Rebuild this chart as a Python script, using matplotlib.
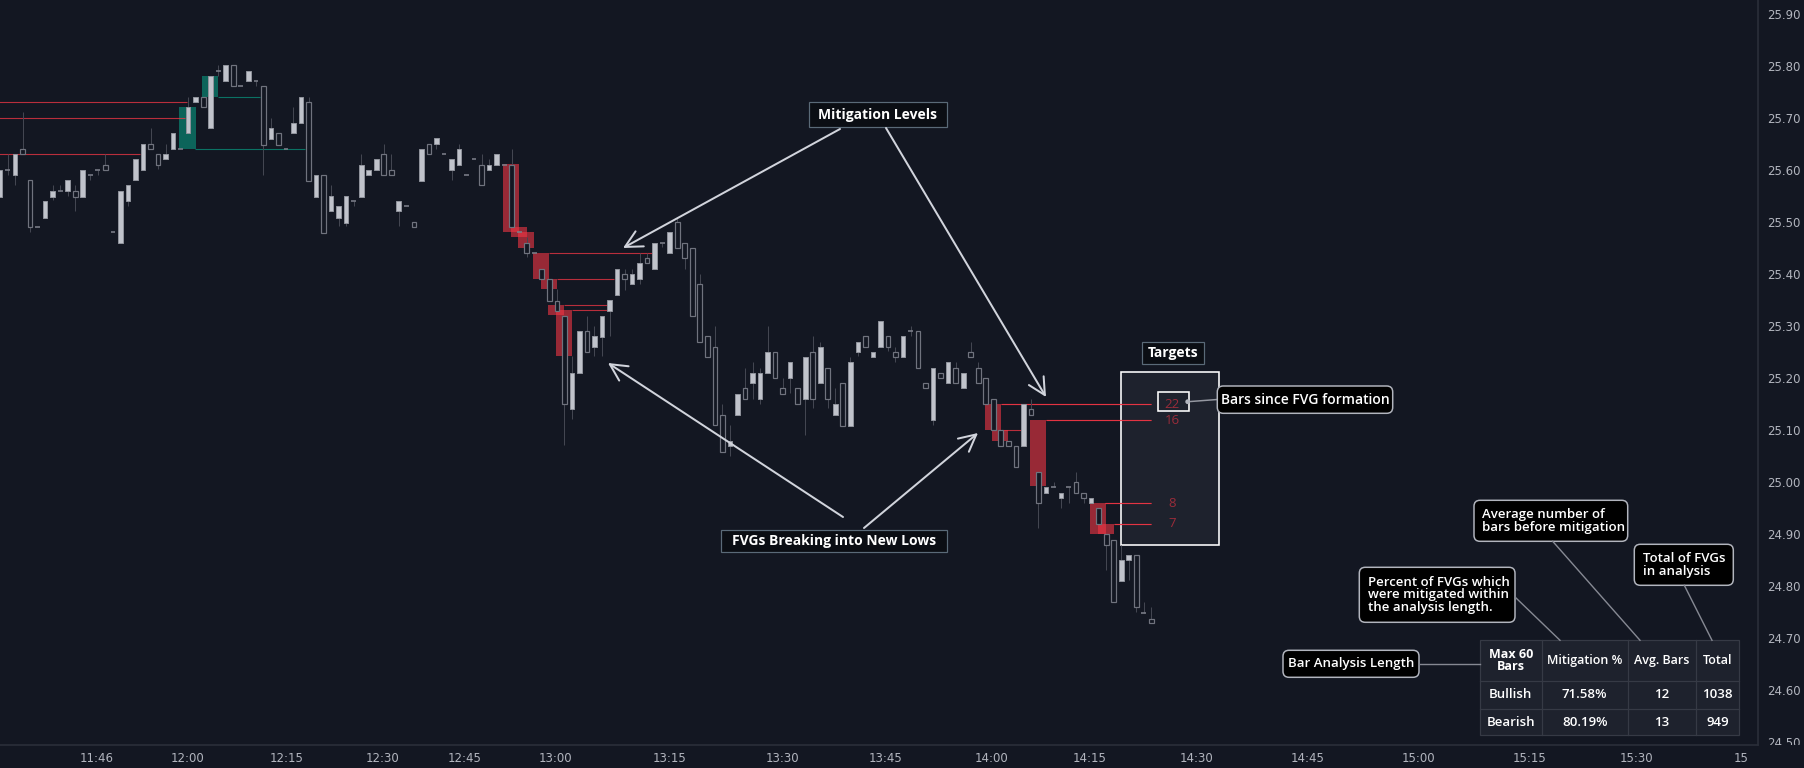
import matplotlib
matplotlib.use('Agg')
import matplotlib.pyplot as plt
from matplotlib.patches import Rectangle, FancyBboxPatch, FancyArrowPatch, Circle
from matplotlib.lines import Line2D
from matplotlib.transforms import IdentityTransform, Bbox, TransformedBbox

W, H = 1804, 768
BG = '#131722'
PX_PER_BAR = 7.525

# candles: one per bar, 1-minute chart
opens = [25.548, 25.599, 25.589, 25.639, 25.580, 25.489, 25.508, 25.548, 25.559, 25.559,
         25.559, 25.548, 25.589, 25.599, 25.610, 25.480, 25.459, 25.539, 25.580, 25.599,
         25.649, 25.630, 25.620, 25.639, 25.639, 25.670, 25.730, 25.739, 25.680, 25.789,
         25.770, 25.801, 25.761, 25.770, 25.770, 25.761, 25.660, 25.670, 25.639, 25.670,
         25.689, 25.730, 25.548, 25.589, 25.520, 25.508, 25.498, 25.539, 25.548, 25.589,
         25.599, 25.630, 25.599, 25.520, 25.530, 25.499, 25.579, 25.649, 25.649, 25.630,
         25.599, 25.610, 25.589, 25.620, 25.610, 25.599, 25.610, 25.610, 25.610, 25.480,
         25.459, 25.439, 25.409, 25.389, 25.348, 25.319, 25.139, 25.209, 25.289, 25.259,
         25.279, 25.329, 25.359, 25.399, 25.380, 25.389, 25.430, 25.409, 25.459, 25.439,
         25.499, 25.459, 25.449, 25.380, 25.280, 25.259, 25.128, 25.068, 25.128, 25.180,
         25.189, 25.159, 25.209, 25.249, 25.180, 25.199, 25.180, 25.159, 25.249, 25.189,
         25.218, 25.128, 25.189, 25.108, 25.249, 25.280, 25.239, 25.259, 25.280, 25.249,
         25.239, 25.289, 25.289, 25.189, 25.118, 25.209, 25.189, 25.218, 25.180, 25.249,
         25.218, 25.199, 25.159, 25.099, 25.078, 25.068, 25.068, 25.139, 25.018, 24.978,
         24.989, 24.968, 24.989, 24.999, 24.978, 24.959, 24.949, 24.899, 24.888, 24.809,
         24.849, 24.859, 24.747, 24.737]
highs = [25.600, 25.630, 25.630, 25.711, 25.580, 25.489, 25.539, 25.571, 25.571, 25.580,
         25.571, 25.599, 25.589, 25.599, 25.630, 25.480, 25.559, 25.570, 25.620, 25.649,
         25.680, 25.630, 25.649, 25.670, 25.639, 25.739, 25.739, 25.739, 25.780, 25.802,
         25.801, 25.801, 25.761, 25.789, 25.770, 25.761, 25.699, 25.670, 25.639, 25.721,
         25.739, 25.739, 25.589, 25.589, 25.571, 25.530, 25.549, 25.539, 25.630, 25.599,
         25.620, 25.650, 25.630, 25.539, 25.530, 25.499, 25.639, 25.649, 25.661, 25.630,
         25.620, 25.649, 25.589, 25.620, 25.630, 25.620, 25.630, 25.610, 25.640, 25.480,
         25.470, 25.439, 25.409, 25.389, 25.370, 25.319, 25.241, 25.289, 25.319, 25.300,
         25.318, 25.349, 25.409, 25.409, 25.409, 25.439, 25.439, 25.459, 25.459, 25.480,
         25.508, 25.459, 25.449, 25.399, 25.280, 25.300, 25.150, 25.109, 25.168, 25.218,
         25.230, 25.218, 25.299, 25.249, 25.199, 25.230, 25.180, 25.239, 25.280, 25.269,
         25.218, 25.180, 25.189, 25.239, 25.268, 25.280, 25.249, 25.309, 25.280, 25.259,
         25.280, 25.299, 25.289, 25.189, 25.218, 25.209, 25.230, 25.230, 25.209, 25.268,
         25.230, 25.199, 25.159, 25.099, 25.078, 25.068, 25.149, 25.159, 25.018, 24.989,
         24.999, 24.978, 24.989, 25.018, 24.978, 24.968, 24.949, 24.899, 24.888, 24.878,
         24.859, 24.859, 24.768, 24.759]
lows = [25.548, 25.590, 25.571, 25.630, 25.481, 25.489, 25.508, 25.541, 25.559, 25.550,
        25.521, 25.548, 25.580, 25.590, 25.599, 25.480, 25.459, 25.531, 25.580, 25.599,
        25.639, 25.601, 25.620, 25.639, 25.639, 25.670, 25.730, 25.720, 25.680, 25.780,
        25.770, 25.761, 25.761, 25.770, 25.761, 25.590, 25.660, 25.648, 25.639, 25.670,
        25.689, 25.579, 25.548, 25.479, 25.520, 25.491, 25.491, 25.531, 25.548, 25.589,
        25.599, 25.589, 25.589, 25.491, 25.530, 25.489, 25.579, 25.630, 25.640, 25.630,
        25.580, 25.610, 25.589, 25.620, 25.570, 25.599, 25.610, 25.610, 25.489, 25.480,
        25.432, 25.439, 25.389, 25.348, 25.329, 25.070, 25.120, 25.209, 25.249, 25.241,
        25.241, 25.280, 25.359, 25.369, 25.380, 25.380, 25.420, 25.409, 25.452, 25.439,
        25.449, 25.410, 25.318, 25.268, 25.239, 25.109, 25.058, 25.050, 25.128, 25.159,
        25.160, 25.149, 25.209, 25.199, 25.168, 25.170, 25.149, 25.090, 25.141, 25.189,
        25.141, 25.128, 25.108, 25.108, 25.241, 25.259, 25.239, 25.259, 25.251, 25.231,
        25.239, 25.280, 25.218, 25.180, 25.109, 25.199, 25.189, 25.189, 25.180, 25.239,
        25.189, 25.149, 25.099, 25.068, 25.068, 25.028, 25.068, 25.128, 24.911, 24.978,
        24.989, 24.950, 24.960, 24.978, 24.960, 24.959, 24.918, 24.830, 24.768, 24.809,
        24.811, 24.749, 24.747, 24.728]
closes = [25.600, 25.599, 25.630, 25.630, 25.489, 25.489, 25.539, 25.559, 25.559, 25.580,
          25.548, 25.599, 25.589, 25.599, 25.599, 25.480, 25.559, 25.570, 25.620, 25.649,
          25.639, 25.610, 25.630, 25.670, 25.639, 25.720, 25.739, 25.720, 25.780, 25.789,
          25.801, 25.761, 25.761, 25.789, 25.770, 25.648, 25.680, 25.648, 25.639, 25.689,
          25.739, 25.579, 25.589, 25.479, 25.549, 25.530, 25.549, 25.539, 25.610, 25.599,
          25.620, 25.589, 25.589, 25.539, 25.530, 25.489, 25.639, 25.630, 25.661, 25.630,
          25.620, 25.639, 25.589, 25.620, 25.570, 25.610, 25.630, 25.610, 25.489, 25.480,
          25.439, 25.439, 25.389, 25.348, 25.329, 25.149, 25.209, 25.289, 25.249, 25.280,
          25.318, 25.349, 25.409, 25.389, 25.399, 25.420, 25.420, 25.459, 25.459, 25.480,
          25.449, 25.430, 25.318, 25.268, 25.239, 25.109, 25.058, 25.078, 25.168, 25.159,
          25.209, 25.209, 25.249, 25.199, 25.168, 25.230, 25.149, 25.239, 25.159, 25.259,
          25.159, 25.149, 25.108, 25.230, 25.268, 25.259, 25.249, 25.309, 25.259, 25.239,
          25.280, 25.289, 25.218, 25.180, 25.218, 25.199, 25.230, 25.189, 25.209, 25.239,
          25.189, 25.149, 25.099, 25.068, 25.068, 25.028, 25.149, 25.128, 24.959, 24.989,
          24.989, 24.978, 24.989, 24.978, 24.968, 24.968, 24.918, 24.878, 24.768, 24.849,
          24.859, 24.759, 24.747, 24.728]

# fair value gaps: first bar, top, bottom
bear_fvg_bar = [67, 68, 69, 71, 72, 73, 74, 131, 132, 137, 145, 146]
bear_fvg_top = [25.611, 25.489, 25.480, 25.439, 25.390, 25.340, 25.330, 25.149, 25.100, 25.118, 24.959, 24.919]
bear_fvg_bot = [25.481, 25.471, 25.450, 25.390, 25.370, 25.320, 25.241, 25.100, 25.079, 24.991, 24.900, 24.900]
bull_fvg_bar = [24, 27]
bull_fvg_top = [25.720, 25.780]
bull_fvg_bot = [25.639, 25.739]

# mitigation levels: price, from bar, to bar
bear_lvl = [25.730, 25.699, 25.630, 25.439, 25.390, 25.340, 25.330, 25.100, 25.149, 25.118, 24.959, 24.919]
bear_lvl_from = [-1, -1, -1, 73.0, 74.0, 74.9, 76.0, 133.0, 133.0, 139.0, 146.9, 148.0]
bear_lvl_to = [24.85, 24.6, 18.6, 86.7, 81.6, 80.6, 80.6, 135.8, 153.0, 153.0, 153.0, 153.0]
bull_lvl = [25.639, 25.739]
bull_lvl_from = [25.9, 29.0]
bull_lvl_to = [40.5, 34.5]

target_lvl = [25.149, 25.118, 24.959, 24.919]
target_bars = ['22', '16', '8', '7']

time_pos = [12.8, 24.9, 38.1, 50.9, 61.8, 73.8, 89.0, 104.0, 117.7, 131.8, 144.8, 159.0,
            173.8, 188.5, 203.2, 217.5, 231.4]
time_lbl = ['11:46', '12:00', '12:15', '12:30', '12:45', '13:00', '13:15', '13:30', '13:45',
            '14:00', '14:15', '14:30', '14:45', '15:00', '15:15', '15:30', '15']
price_ticks = [24.5, 24.6, 24.7, 24.8, 24.9, 25.0, 25.1, 25.2, 25.3, 25.4, 25.5, 25.6, 25.7, 25.8, 25.9]

tbl_cols = ['Max 60\nBars', 'Mitigation %', 'Avg. Bars', 'Total']
tbl_rows = [['Bullish', '71.58%', '12', '1038'],
            ['Bearish', '80.19%', '13', '949']]

RED = '#f23645'
TEAL = '#089981'
FONT = ['Open Sans', 'DejaVu Sans']

fig = plt.figure(figsize=(W / 100, H / 100), dpi=100, facecolor=BG)
ax = fig.add_axes([0, 23 / H, 1758 / W, 745 / H], facecolor=BG)
ax.set_xlim(0, 1758 / PX_PER_BAR)
ax.set_ylim(24.4938, 25.9265)

px = 0.72  # one pixel in points
bw = 0.62

# fvg boxes
for b, t, bt in zip(bear_fvg_bar, bear_fvg_top, bear_fvg_bot):
    ax.add_patch(Rectangle((b - 0.15, bt), 2.15, t - bt, fc=RED, alpha=0.6, lw=0, zorder=1))
for b, t, bt in zip(bull_fvg_bar, bull_fvg_top, bull_fvg_bot):
    ax.add_patch(Rectangle((b - 0.15, bt), 2.15, t - bt, fc=TEAL, alpha=0.6, lw=0, zorder=1))
ax.hlines(bear_lvl, bear_lvl_from, bear_lvl_to, color=RED, alpha=0.75, lw=1.1 * px, zorder=1.6)
ax.hlines(bull_lvl, bull_lvl_from, bull_lvl_to, color=TEAL, alpha=0.7, lw=1.1 * px, zorder=1.6)

# candles
for i, (o, h, l, c) in enumerate(zip(opens, highs, lows, closes)):
    if h > max(o, c) or l < min(o, c):
        ax.vlines(i, l, h, color='#434651', lw=1 * px, zorder=2)
    if o == c:
        ax.hlines(o, i - bw / 2, i + bw / 2, color='#7b7e89', lw=1.6 * px, zorder=3)
    elif c > o:
        ax.bar(i, c - o, bottom=o, width=bw, color='#c0c3cb', edgecolor='#8f929b', lw=1 * px, zorder=3)
    else:
        ax.bar(i, o - c, bottom=c, width=bw, color=BG, edgecolor='#70737e', lw=1.2 * px, zorder=3)

# axes styling
for s in ['top', 'left']:
    ax.spines[s].set_visible(False)
for s in ['right', 'bottom']:
    ax.spines[s].set_color('#2a2e39')
    ax.spines[s].set_linewidth(1.2)
ax.yaxis.tick_right()
ax.set_yticks(price_ticks)
ax.set_yticklabels([f'{p:.2f}' for p in price_ticks])
ax.set_xticks(time_pos)
ax.set_xticklabels(time_lbl)
ax.tick_params(axis='y', length=0, pad=6.5, labelsize=8.5, labelcolor='#b2b5be')
ax.tick_params(axis='x', length=0, pad=5, labelsize=8.5, labelcolor='#b2b5be')
# price labels are hidden under the time scale, like the 24.50 one
price_clip = TransformedBbox(Bbox([[0, 23], [W, H]]), IdentityTransform())
for lbl in ax.get_yticklabels():
    lbl.set_clip_box(price_clip)
    lbl.set_clip_on(True)

# annotation layer in pixel coordinates (origin top-left)
ident = IdentityTransform()


def fy(y):
    return H - y


def rect(x0, y0, x1, y1, fc, ec, lw, z=5, rounded=0):
    if rounded:
        p = FancyBboxPatch((x0, fy(y1)), x1 - x0, y1 - y0,
                           boxstyle=f'round,pad=0,rounding_size={rounded}',
                           fc=fc, ec=ec, lw=lw * px, transform=ident, zorder=z, clip_on=False)
    else:
        p = Rectangle((x0, fy(y1)), x1 - x0, y1 - y0, fc=fc, ec=ec, lw=lw * px,
                      transform=ident, zorder=z, clip_on=False)
    ax.add_patch(p)


def txt(x, y, s, size=9.5, weight='semibold', ha='center', color='white', z=6, ls=1.1):
    ax.text(x, fy(y), s, transform=ident, ha=ha, va='center', fontsize=size,
            fontweight=weight, color=color, family=FONT, zorder=z, linespacing=ls, clip_on=False)


def seg(x0, y0, x1, y1, color='#868993', lw=1.4, z=5):
    ax.add_line(Line2D([x0, x1], [fy(y0), fy(y1)], color=color, lw=lw * px, transform=ident,
                       zorder=z, clip_on=False))


def arrow(x0, y0, x1, y1):
    ax.add_patch(FancyArrowPatch((x0, fy(y0)), (x1, fy(y1)), transform=ident,
                                 arrowstyle='->,head_length=0.55,head_width=0.28',
                                 mutation_scale=22, color='#d1d4dc', lw=2 * px,
                                 shrinkA=0, shrinkB=0, zorder=6, clip_on=False))


# targets panel
rect(1120.7, 372.3, 1218.7, 545.3, '#1e222d', 'white', 1.6, z=0.5)
ax.hlines(bear_lvl[8:], bear_lvl_from[8:], bear_lvl_to[8:], color=RED, alpha=0.75, lw=1.1 * px, zorder=1.6)
for lv, n in zip(target_lvl, target_bars):
    ax.text(155.8, lv, n, ha='center', va='center', fontsize=9.5, color='#9a2c3a', family=FONT, zorder=4)
rect(1142.3, 342.3, 1203.7, 364.3, '#0b0e14', '#5a6a78', 1.2)
txt(1173, 353.3, 'Targets', size=10, weight='bold')
rect(1158.3, 392.3, 1188.7, 410.7, 'none', 'white', 1.6)
seg(1188, 401.7, 1217.3, 399.5, color='#9598a1', lw=1.5)
ax.add_patch(Circle((1187.7, fy(401.7)), 2.4, fc='#b2b5be', ec='none', transform=ident, zorder=6))
rect(1217.3, 386, 1392.7, 413.3, 'black', '#b2b5be', 1.5, rounded=6)
txt(1305, 399.7, 'Bars since FVG formation', size=10)

# labelled arrows
rect(808.8, 102.4, 946.9, 126.6, '#0b0e14', '#5a6a78', 1.2)
txt(877.8, 114.5, 'Mitigation Levels', size=10, weight='bold')
arrow(840, 129, 623, 248)
arrow(886, 128, 1046, 397)
rect(720.7, 530, 947.3, 552.3, '#0b0e14', '#5a6a78', 1.2)
txt(834, 541.2, 'FVGs Breaking into New Lows', size=10, weight='bold')
arrow(843, 517, 608, 363)
arrow(864, 528, 978, 433)

# statistics table
xs = [1479.7, 1541.7, 1627.7, 1696.3, 1739.3]
ys = [640.3, 681, 708.7, 735.3]
rect(xs[0], ys[0], xs[-1], ys[-1], '#1e222d', '#363a45', 1.2)
for x in xs[1:-1]:
    seg(x, ys[0], x, ys[-1], color='#363a45', lw=1.2, z=5.5)
for y in ys[1:-1]:
    seg(xs[0], y, xs[-1], y, color='#363a45', lw=1.2, z=5.5)
for j, name in enumerate(tbl_cols):
    cx = (xs[j] + xs[j + 1]) / 2
    txt(cx, (ys[0] + ys[1]) / 2, name, size=9, weight='bold' if j == 0 else 'semibold', ls=0.95)
    for r, row in enumerate(tbl_rows):
        txt(cx, (ys[r + 1] + ys[r + 2]) / 2, row[j], size=9.5)

# callouts for the table
rect(1283, 650.3, 1419, 677.3, 'black', '#b2b5be', 1.5, rounded=6)
txt(1351, 663.8, 'Bar Analysis Length')
seg(1419, 664, 1479.7, 664)
rect(1359.3, 567.3, 1515, 622.3, 'black', '#b2b5be', 1.5, rounded=6)
txt(1367.5, 594.8, 'Percent of FVGs which\nwere mitigated within\nthe analysis length.', ha='left', ls=0.95)
seg(1515, 597, 1560, 640.3)
rect(1474, 500.3, 1627.7, 541.3, 'black', '#b2b5be', 1.5, rounded=6)
txt(1482.3, 520.8, 'Average number of\nbars before mitigation', ha='left', ls=0.95)
seg(1552.7, 541.3, 1640, 640.3)
rect(1634.3, 544.3, 1733.3, 585.3, 'black', '#b2b5be', 1.5, rounded=6)
txt(1642.7, 564.8, 'Total of FVGs\nin analysis', ha='left', ls=0.95)
seg(1684.3, 585.3, 1712, 640.3)

fig.savefig('out.png', dpi=100, facecolor=BG)
